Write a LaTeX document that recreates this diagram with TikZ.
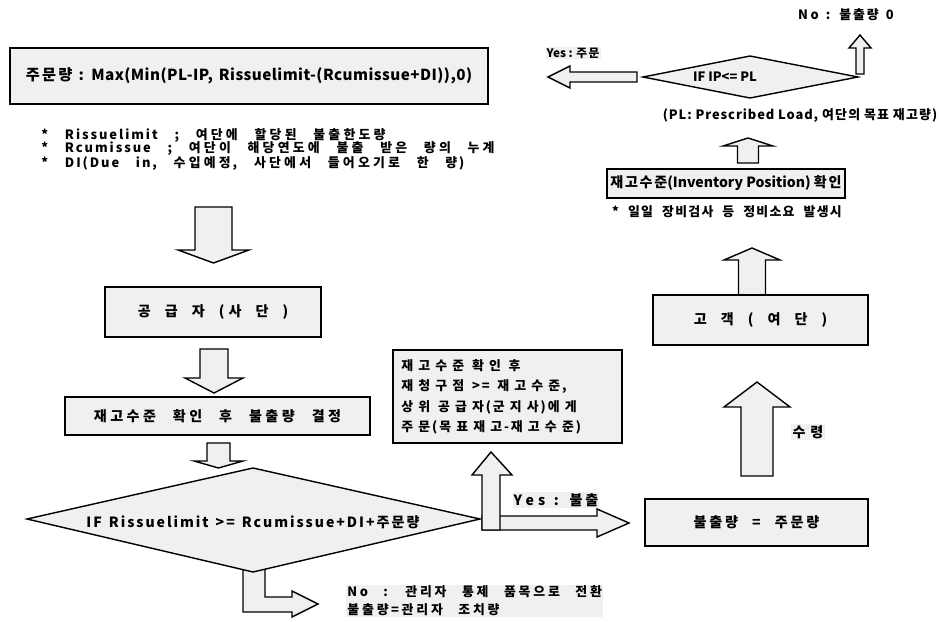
\documentclass[tikz,border=0pt]{standalone}
\usepackage{fontspec}
\setmainfont{Noto Sans CJK KR}
\usetikzlibrary{positioning}
% 한글 글자 사이 간격
\def\hgap{0.12em}
\XeTeXinterchartokenstate=1
\newXeTeXintercharclass\hangulcls
\count255="AC00
\loop
  \XeTeXcharclass\count255=\hangulcls
  \advance\count255 by 1
\ifnum\count255<"D7A4 \repeat
\XeTeXinterchartoks\hangulcls\hangulcls={\hskip\hgap\relax}
% 낱말 간격
\newcommand\widespace[1]{\spaceskip #1em\relax}

\begin{document}
\begin{tikzpicture}[x=0.03cm, y=-0.03cm,
    box/.style={draw, line width=1.3pt, fill=black!6, inner sep=0pt,
                font=\bfseries\fontsize{12}{14}\selectfont},
    shp/.style={draw, line width=1.2pt, fill=black!6, line join=miter},
    txt/.style={font=\bfseries\fontsize{11}{13}\selectfont, inner sep=1pt},
    tag/.style={txt, fill=black!6},
    % 크기, 자간, 한글 간격, 낱말 간격
    spaced/.style n args={4}{font={\bfseries\fontsize{#1}{#1}\selectfont
                \addfontfeatures{LetterSpace=#2}\def\hgap{#3em}\widespace{#4}}}]
    \useasboundingbox (0,0) rectangle (939,622);

    % 주문량 상자
    \node[box, minimum width=14.34cm, minimum height=1.68cm, spaced={13}{3}{0.15}{0.4}] (order) at (249,76)
         {주문량 : Max(Min(PL-IP, Rissuelimit-(Rcumissue+DI)),0)};

    % IF IP<= PL 판단
    \draw[shp] (643,77) -- (750,56) -- (858,77) -- (750,98) -- cycle;
    \node[txt] (ifip) at (725,77) {IF IP<= PL};
    % Yes: 왼쪽 화살표, No: 위쪽 화살표
    \draw[shp] (637,72) -- (570,72) -- (570,66) -- (548,77)
               -- (570,88) -- (570,82) -- (637,82) -- cycle;
    \node[tag, font=\bfseries\fontsize{10}{12}\selectfont] (yesorder) at (573,53) {Yes : 주문};
    \draw[shp] (856,74) -- (856,48) -- (849,48) -- (860,35)
               -- (871,48) -- (864,48) -- (864,74) -- cycle;
    \node[txt, spaced={11}{20}{0.15}{0.55}] (nozero) at (846,15) {No : 불출량 0};
    \node[txt, spaced={11}{7}{0.1}{0.3}] (plnote) at (800,116)
         {(PL: Prescribed Load, 여단의 목표 재고량)};

    % 오른쪽 열: 고객에서 위로
    \draw[shp] (737.5,163) -- (737.5,146) -- (723,146) -- (748,138)
               -- (773,146) -- (758.5,146) -- (758.5,163) -- cycle;
    \node[box, minimum width=7.14cm, minimum height=0.87cm] (invpos) at (726,183.5)
         {재고수준(Inventory Position) 확인};
    \node[txt, spaced={11}{17}{0.1}{0.7}] (daily) at (727,212) {* 일일 장비검사 등 정비소요 발생시};
    \draw[shp] (738.5,295) -- (738.5,260) -- (724,260) -- (752,248)
               -- (780,260) -- (765.5,260) -- (765.5,295) -- cycle;
    \node[box, minimum width=6.45cm, minimum height=1.5cm, spaced={12}{15}{0.1}{1.0}] (customer) at (760.5,320)
         {고 객 ( 여 단 )};
    \draw[shp] (741,476) -- (741,407) -- (724,407) -- (757,382)
               -- (790,407) -- (773,407) -- (773,476) -- cycle;
    \node[tag, spaced={12}{0}{0.35}{0.4}] (receive) at (808,432) {수령};
    \node[box, minimum width=6.69cm, minimum height=1.41cm, spaced={12}{10}{0.2}{1.0}] (issue) at (756.5,522.5)
         {불출량 = 주문량};

    % 왼쪽 열: 주의 사항
    \node[txt, anchor=west, spaced={11}{15}{0.25}{1.3}] (note1) at (40,135) {* Rissuelimit ; 여단에 할당된 불출한도량};
    \node[txt, anchor=west, spaced={11}{15}{0.25}{1.3}] (note2) at (40,149) {* Rcumissue ; 여단이 해당연도에 불출 받은 량의 누계};
    \node[txt, anchor=west, spaced={11}{15}{0.25}{1.3}] (note3) at (40,164) {* DI(Due in, 수입예정, 사단에서 들어오기로 한 량)};

    \draw[shp] (195,207) -- (232,207) -- (232,250) -- (249,250)
               -- (213.5,263) -- (178,250) -- (195,250) -- cycle;
    \node[box, minimum width=6.48cm, minimum height=1.5cm, spaced={12}{30}{0.1}{1.0}] (supplier) at (213,312)
         {공 급 자 (사 단 )};
    \draw[shp] (200,349) -- (228,349) -- (228,378) -- (243,378)
               -- (214,393) -- (185,378) -- (200,378) -- cycle;
    \node[box, minimum width=9.15cm, minimum height=1.14cm, spaced={12}{30}{0.25}{1.2}] (decide) at (217.5,416)
         {재고수준 확인 후 불출량 결정};
    \draw[shp] (207,443) -- (230,443) -- (230,461) -- (243,461)
               -- (218.5,468) -- (194,461) -- (207,461) -- cycle;

    % No: 아래로 꺾인 화살표 (판단 상자 밑에 먼저 그림)
    \draw[shp] (243,566) -- (243,612) -- (292,612) -- (292,617) -- (318,604)
               -- (292,591) -- (292,597) -- (265,597) -- (265,566) -- cycle;
    % IF Rissuelimit 판단
    \draw[shp] (27,519) -- (253,468) -- (480,519) -- (253,572) -- cycle;
    \node[txt, spaced={12}{14}{0.15}{0.5}] (iflimit) at (253,522)
         {IF Rissuelimit >= Rcumissue+DI+주문량};
    \node[tag, anchor=west, align=left, font={\bfseries\fontsize{11}{15.3}\selectfont
          \addfontfeatures{LetterSpace=20}\def\hgap{0.22em}\widespace{1.2}}] (nomanager) at (346,601)
         {No : 관리자 통제 품목으로 전환\\불출량=관리자 조치량};

    % Yes: 오른쪽 화살표와 위쪽 화살표
    \draw[shp] (482,516) -- (597,516) -- (597,509) -- (629,523)
               -- (597,537) -- (597,530) -- (482,530) -- cycle;
    \draw[shp] (482,530) -- (482,475) -- (472,475) -- (491,452)
               -- (512,475) -- (500,475) -- (500,530) -- cycle;
    \node[tag, spaced={12}{30}{0.2}{0.6}] (yesissue) at (556,500) {Yes : 불출};
    \node[box, minimum width=6.87cm, minimum height=2.79cm] (reorder) at (507.5,396.5) {};
    \node[txt, anchor=west, align=left, font={\bfseries\fontsize{11}{17.5}\selectfont
          \addfontfeatures{LetterSpace=15}\def\hgap{0.4em}\widespace{0.6}}] (reordertxt) at (400,397)
         {재고수준 확인 후\\재청구점 >= 재고수준,\\상위 공급자(군지사)에게\\주문(목표재고-재고수준)};
\end{tikzpicture}
\end{document}
